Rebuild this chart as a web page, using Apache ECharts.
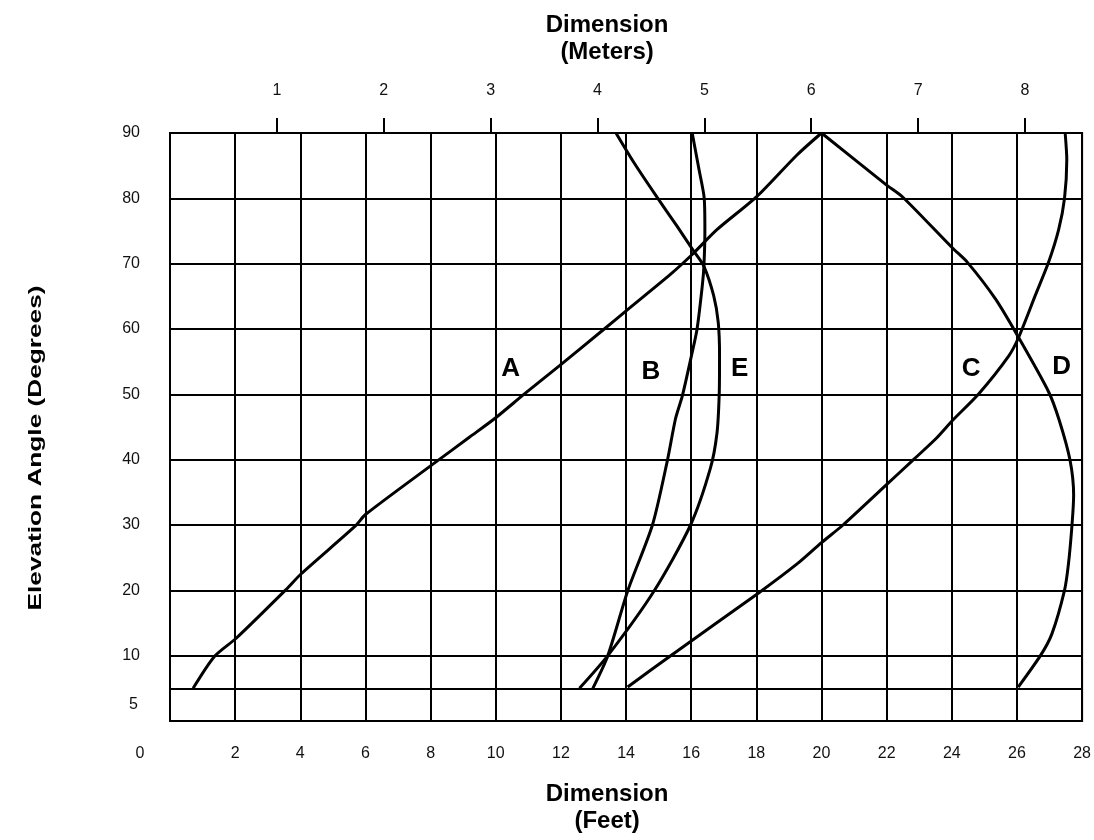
<!DOCTYPE html>
<html>
<head>
<meta charset="utf-8">
<title>Elevation Angle vs Dimension</title>
<script src="https://cdn.jsdelivr.net/npm/echarts@6/dist/echarts.min.js"></script>
<style>
  html, body { margin: 0; padding: 0; background: #fff; }
  #chart { width: 1094px; height: 840px; }
</style>
</head>
<body>
<div id="chart"></div>
<script>
// feet per meter, for the top axis
const FT_PER_M = 3.2808

// axis ranges
const feetRange = [0, 28]
const degreeRange = [0, 90]
const meterTicks = [1, 2, 3, 4, 5, 6, 7, 8]
const extraDegreeLine = 5

// curves, [feet, degrees] bottom to top
const curveA = [
  [0.71, 5], [1.37, 9.9], [2.04, 12.7], [3.56, 20.1], [4.02, 22.5], [5.7, 29.9],
  [6.0, 31.6], [8.04, 39.2], [9.21, 43.5], [9.97, 46.3], [10.89, 50.1],
  [11.96, 54.4], [13.33, 60], [14.03, 62.9], [15.37, 68.4], [16.03, 71.4],
  [16.79, 75.2], [18.02, 80.3], [19.24, 86.6], [20, 90],
]
const curveB = [
  [12.98, 5], [13.44, 10], [14.05, 19.9], [14.81, 30], [15.27, 39.9],
  [15.52, 46.3], [15.73, 49.8], [16.03, 56.4], [16.18, 60], [16.34, 66.6],
  [16.39, 69.6], [16.42, 75], [16.4, 80], [16.24, 84.4], [16.03, 90],
]
const curveC = [
  [14.05, 5.2], [15.37, 10], [18.07, 19.6], [19.24, 24], [20, 27.3], [20.66, 30],
  [21.98, 36.1], [22.8, 39.9], [23.51, 43.2], [24.02, 46], [24.83, 50.1],
  [25.75, 55.9], [26.05, 58.7], [26.56, 65.1], [26.97, 70.2], [27.28, 75.2],
  [27.46, 80], [27.53, 85.9], [27.48, 90],
]
const curveD = [
  [26.04, 5.2], [26.72, 10], [27.07, 13.3], [27.46, 20], [27.58, 24],
  [27.69, 30], [27.74, 34.6], [27.63, 39.9], [27.3, 46], [26.97, 50.4],
  [26.05, 58.7], [25.34, 64.6], [24.48, 70.2], [24.02, 72.4], [22.49, 80.2],
  [21.98, 82.1], [20, 90],
]
const curveE = [
  [12.57, 5], [13.44, 10], [14.86, 19.9], [15.98, 30], [16.59, 38.7],
  [16.79, 44], [16.86, 50], [16.87, 56], [16.83, 61], [16.69, 65.1],
  [16.39, 69.6], [16.08, 71.9], [15.57, 75.7], [14.96, 80.1], [14.25, 85.4],
  [13.69, 90],
]

// curve letters, [text, feet, degrees]
const curveLabels = [
  ['A', 10.47, 53.9],
  ['B', 14.78, 53.4],
  ['E', 17.5, 53.8],
  ['C', 24.61, 53.8],
  ['D', 27.39, 54.1],
]

const FONT = '"Liberation Sans", Arial, sans-serif'
const INK = '#000'

const curveStyle = {
  type: 'line',
  xAxisIndex: 0,
  yAxisIndex: 0,
  symbol: 'none',
  smooth: 0.25,
  lineStyle: { color: INK, width: 3 },
  silent: true,
}

const axisTitle = {
  fontSize: 24,
  fontWeight: 'bold',
  color: INK,
  lineHeight: 27,
  // the titles sit a little left of the plot centre
  padding: [0, 38, 0, 0],
}

const chart = echarts.init(document.getElementById('chart'))

chart.setOption({
  animation: false,
  textStyle: { fontFamily: FONT },
  grid: {
    left: 170,
    right: 7,
    top: 133,
    bottom: 116,
    show: true,
    borderColor: INK,
    borderWidth: 2,
  },
  // the y title is wide-set in the original, so stretch it along its length
  graphic: [
    {
      type: 'text',
      x: 36,
      y: 448,
      rotation: Math.PI / 2,
      scaleX: 1.38,
      silent: true,
      style: {
        text: 'Elevation Angle (Degrees)',
        fontFamily: FONT,
        fontSize: 19,
        fontWeight: 'bold',
        fill: INK,
        align: 'center',
        verticalAlign: 'middle',
      },
    },
  ],
  xAxis: [
    {
      type: 'value',
      position: 'bottom',
      min: feetRange[0],
      max: feetRange[1],
      interval: 2,
      axisLine: { show: true, lineStyle: { color: INK, width: 2 } },
      axisTick: { show: false },
      axisLabel: {
        fontSize: 16,
        color: '#111',
        margin: 25,
        formatter: (v) => (v === 0 ? '{o|0}' : String(v)),
        rich: { o: { fontSize: 16, color: '#111', padding: [0, 60, 0, 0] } },
      },
      splitLine: { show: true, lineStyle: { color: INK, width: 2 } },
      name: 'Dimension\n(Feet)',
      nameLocation: 'middle',
      nameGap: 60,
      nameTextStyle: axisTitle,
    },
    {
      type: 'value',
      position: 'top',
      min: feetRange[0] / FT_PER_M,
      max: feetRange[1] / FT_PER_M,
      interval: 1,
      axisLine: { show: true, lineStyle: { color: INK, width: 2 } },
      axisTick: {
        show: true,
        inside: false,
        length: 15,
        customValues: meterTicks,
        lineStyle: { color: INK, width: 2 },
      },
      axisLabel: {
        fontSize: 16,
        color: '#111',
        margin: 34,
        customValues: meterTicks,
        formatter: (v) => (v === 0 ? '' : String(v)),
      },
      splitLine: { show: false },
      name: 'Dimension\n(Meters)',
      nameLocation: 'middle',
      nameGap: 67,
      nameTextStyle: axisTitle,
    },
  ],
  yAxis: {
    type: 'value',
    min: degreeRange[0],
    max: degreeRange[1],
    interval: 10,
    axisLine: { show: true, lineStyle: { color: INK, width: 2 } },
    axisTick: { show: false },
    axisLabel: {
      fontSize: 16,
      color: '#111',
      margin: 30,
      formatter: (v) => (v === 0 ? '' : String(v)),
    },
    splitLine: { show: true, lineStyle: { color: INK, width: 2 } },
  },
  series: [
    {
      ...curveStyle,
      name: 'A',
      data: curveA,
      markLine: {
        silent: true,
        symbol: ['none', 'none'],
        lineStyle: { color: INK, width: 2, type: 'solid' },
        label: {
          position: 'start',
          distance: 32,
          formatter: () => '{f|' + extraDegreeLine + '}',
          rich: { f: { fontSize: 16, color: '#111', padding: [32, 0, 0, 0] } },
        },
        data: [{ yAxis: extraDegreeLine }],
      },
    },
    { ...curveStyle, name: 'B', data: curveB },
    { ...curveStyle, name: 'C', data: curveC },
    { ...curveStyle, name: 'D', data: curveD },
    { ...curveStyle, name: 'E', data: curveE },
    {
      type: 'scatter',
      name: 'labels',
      silent: true,
      symbolSize: 1,
      itemStyle: { color: 'rgba(0,0,0,0)' },
      emphasis: { disabled: true },
      label: {
        show: true,
        position: [0, 0],
        align: 'center',
        verticalAlign: 'middle',
        fontSize: 26,
        fontWeight: 'bold',
        color: INK,
        opacity: 1,
        textBorderWidth: 0,
        formatter: (p) => p.name,
      },
      data: curveLabels.map(([name, ft, deg]) => ({ name, value: [ft, deg] })),
    },
  ],
})
</script>
</body>
</html>
